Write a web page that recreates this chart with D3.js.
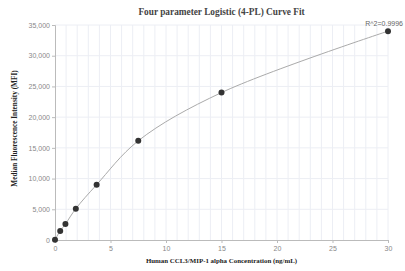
<!DOCTYPE html>
<html>
<head>
<meta charset="utf-8">
<script src="https://cdn.jsdelivr.net/npm/d3@7"></script>
<style>
  body { margin: 0; background: #fff; }
  text { font-family: "Liberation Sans", Arial, sans-serif; }
  .ttl { font-family: "Liberation Serif", "Times New Roman", serif; font-weight: bold; }
</style>
</head>
<body>
<svg id="chart" width="405" height="271"></svg>
<script>
// standard concentrations (ng/mL) and measured MFI
var conc = [0, 0.469, 0.938, 1.875, 3.75, 7.5, 15, 30]
var mfi = [60, 1480, 2600, 5100, 9000, 16150, 24000, 34000]
var xTicks = [0, 5, 10, 15, 20, 25, 30]
var yTicks = [0, 5000, 10000, 15000, 20000, 25000, 30000, 35000]
var rSquared = "R^2=0.9996"

var svg = d3.select("#chart")
var m = {left: 55, right: 17, top: 25, bottom: 31}
var w = 405 - m.left - m.right
var h = 271 - m.top - m.bottom

var x = d3.scaleLinear().domain([0, 30]).range([0, w])
var y = d3.scaleLinear().domain([0, 35000]).range([h, 0])

var g = svg.append("g").attr("transform", "translate(" + m.left + "," + m.top + ")")

// grid
g.append("g").selectAll("line")
    .data(d3.range(1, 31))
    .enter().append("line")
    .attr("x1", function(d) { return x(d) })
    .attr("x2", function(d) { return x(d) })
    .attr("y1", 0).attr("y2", h)
    .attr("stroke", "#eceef4").attr("stroke-width", 1)
g.append("g").selectAll("line")
    .data(yTicks.slice(1))
    .enter().append("line")
    .attr("x1", 0).attr("x2", w)
    .attr("y1", function(d) { return y(d) })
    .attr("y2", function(d) { return y(d) })
    .attr("stroke", "#eceef4").attr("stroke-width", 1)

// axes
var xAxis = g.append("g").attr("transform", "translate(0," + h + ")")
    .call(d3.axisBottom(x).tickValues(xTicks).tickSize(3).tickPadding(3))
var yAxis = g.append("g")
    .call(d3.axisLeft(y).tickValues(yTicks).tickSize(3).tickPadding(2).tickFormat(d3.format(",")))
;[xAxis, yAxis].forEach(function(a) {
    a.selectAll("path, line").attr("stroke", "#bbb")
    a.selectAll("text").attr("fill", "#888").style("font-size", "7px")
})

// fit curve
var pts = conc.map(function(c, i) { return [c, mfi[i]] })
g.append("path")
    .datum(pts)
    .attr("fill", "none")
    .attr("stroke", "#aaa")
    .attr("stroke-width", 1)
    .attr("d", d3.line()
        .x(function(d) { return x(d[0]) })
        .y(function(d) { return y(d[1]) })
        .curve(d3.curveCatmullRom.alpha(0.5)))

g.append("g").selectAll("circle")
    .data(pts)
    .enter().append("circle")
    .attr("cx", function(d) { return x(d[0]) })
    .attr("cy", function(d) { return y(d[1]) })
    .attr("r", 3)
    .attr("fill", "#333")

var last = pts[pts.length - 1]
g.append("text")
    .attr("x", 403 - m.left)
    .attr("y", y(last[1]) - 5)
    .attr("text-anchor", "end")
    .attr("fill", "#666")
    .style("font-size", "7px")
    .text(rSquared)

// titles
svg.append("text").attr("class", "ttl")
    .attr("x", m.left + w / 2).attr("y", 15)
    .attr("text-anchor", "middle")
    .attr("fill", "#444")
    .style("font-size", "9.3px")
    .text("Four parameter Logistic (4-PL) Curve Fit")
svg.append("text").attr("class", "ttl")
    .attr("x", m.left + w / 2).attr("y", 263)
    .attr("text-anchor", "middle")
    .attr("fill", "#222")
    .style("font-size", "6.9px")
    .text("Human CCL3/MIP-1 alpha Concentration (ng/mL)")
svg.append("text").attr("class", "ttl")
    .attr("transform", "translate(17," + (m.top + h / 2 - 4) + ") rotate(-90)")
    .attr("text-anchor", "middle")
    .attr("fill", "#222")
    .style("font-size", "7.3px")
    .text("Median Fluorescence Intensity (MFI)")
</script>
</body>
</html>
